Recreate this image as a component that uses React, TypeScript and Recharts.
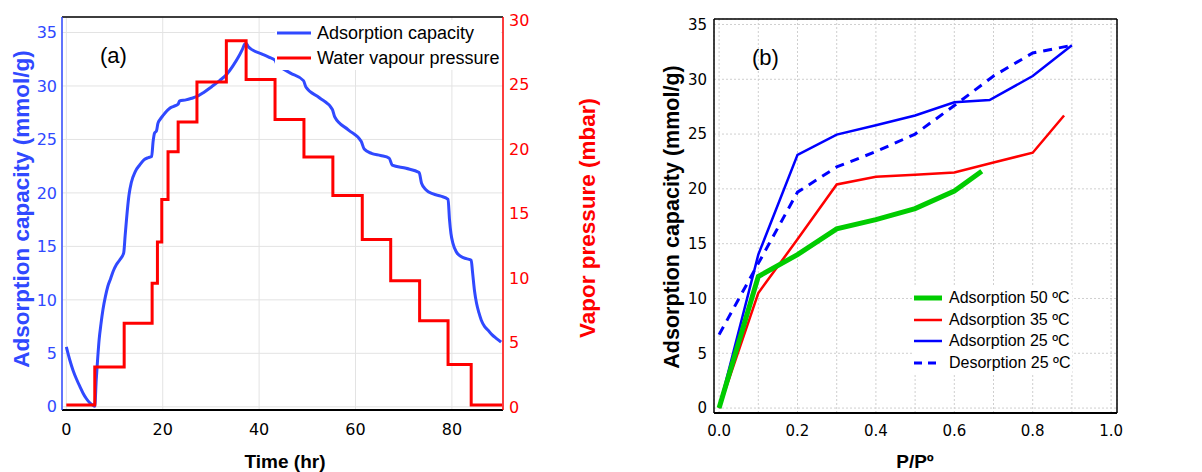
import React from 'react';
import { LineChart, Line, XAxis, YAxis, CartesianGrid, Legend } from 'recharts';

// ---------- Panel (a): time series ----------
const timeHr = [
  0, 0.7, 1.4, 2.1, 2.8, 3.5, 4.1, 4.8, 5.5, 5.9, 6.2, 6.5, 6.8, 7.2, 7.6, 8.1, 8.6, 9.2, 9.7, 10.4,
  11.1, 11.9, 12.2, 12.5, 13.0, 13.5, 14.3, 15.2, 16.1, 17.0, 17.7, 18.0, 18.3, 18.7, 19.0, 19.5, 20.0,
  20.7, 21.4, 22.3, 23.2, 23.5, 24.8, 26.0, 27.0, 28.5, 30.2, 31.8, 33.3, 34.6, 35.7, 36.5, 37.0, 37.3,
  37.7, 38.5, 40.5, 42.0, 43.3, 43.7, 44.3, 46.5, 49.2, 49.7, 52.5, 55.2, 55.7, 58.5, 61.2, 61.8, 63.3,
  65.2, 67.0, 67.6, 70.5, 73.2, 73.7, 74.6, 76.1, 77.7, 79.2, 79.5, 79.8, 80.2, 80.9, 81.9, 83.0, 84.0,
  84.3, 84.7, 85.1, 85.6, 86.1, 86.8, 87.5, 88.3, 89.2, 90.2,
];
const capacityMmolG = [
  5.6, 4.4, 3.4, 2.6, 1.9, 1.25, 0.8, 0.4, 0.15, 0.05, 2.5, 4.5, 6.25, 7.8, 9.1, 10.3, 11.25, 12.0, 12.65, 13.3,
  13.75, 14.4, 16.0, 17.6, 19.8, 21.0, 22.0, 22.6, 23.1, 23.3, 23.4, 24.8, 25.6, 25.8, 26.5, 26.9, 27.2,
  27.6, 27.9, 28.1, 28.3, 28.6, 28.7, 28.85, 29.0, 29.4, 29.95, 30.5, 31.1, 31.9, 32.7, 33.4, 33.9, 34.0,
  33.7, 33.4, 33.0, 32.7, 32.4, 32.0, 31.8, 31.2, 30.5, 29.9, 28.9, 27.8, 27.1, 25.9, 24.8, 24.1, 23.7,
  23.5, 23.25, 22.6, 22.3, 21.9, 20.9, 20.3, 19.9, 19.7, 19.4, 17.5, 16.2, 15.3, 14.5, 14.05, 13.85, 13.7,
  12.5, 10.8, 9.7, 8.8, 8.1, 7.5, 7.15, 6.75, 6.4, 6.05,
];
const stepTimeHr = [0, 5.9, 12.0, 17.8, 18.9, 19.8, 21.1, 23.2, 27.1, 33.2, 37.3, 43.3, 49.3, 55.3, 61.4, 67.3, 73.3, 79.2, 84.0, 90.4];
const vaporPressureMbar = [0.15, 3.1, 6.5, 9.6, 12.8, 16.1, 19.8, 22.1, 25.2, 28.4, 25.4, 22.3, 19.4, 16.4, 13.0, 9.8, 6.7, 3.3, 0.15, 0.15];
const timeTicks = [0, 20, 40, 60, 80];
const capacityTicks = [0, 5, 10, 15, 20, 25, 30, 35];
const pressureTicks = [0, 5, 10, 15, 20, 25, 30];

// ---------- Panel (b): isotherms ----------
const ads50P = [0, 0.1, 0.2, 0.3, 0.4, 0.5, 0.6, 0.67];
const ads50Q = [0, 12.0, 14.0, 16.35, 17.2, 18.2, 19.8, 21.6];
const ads35P = [0, 0.1, 0.2, 0.3, 0.4, 0.5, 0.6, 0.7, 0.8, 0.88];
const ads35Q = [0, 10.5, 15.4, 20.4, 21.1, 21.3, 21.5, 22.4, 23.3, 26.7];
const ads25P = [0, 0.1, 0.2, 0.3, 0.4, 0.5, 0.6, 0.69, 0.8, 0.9];
const ads25Q = [0, 14.0, 23.1, 24.95, 25.8, 26.7, 27.9, 28.1, 30.3, 33.1];
const des25P = [0, 0.1, 0.2, 0.3, 0.4, 0.5, 0.6, 0.7, 0.8, 0.9];
const des25Q = [6.7, 13.2, 19.7, 22.0, 23.4, 25.0, 27.6, 30.3, 32.4, 33.1];
const relPressureTicks = [0, 0.1, 0.2, 0.3, 0.4, 0.5, 0.6, 0.7, 0.8, 0.9, 1.0];
const isoCapacityTicks = [0, 5, 10, 15, 20, 25, 30, 35];

const BLUE_A = '#3049ff';
const RED = '#ff0000';
const BLUE_B = '#0000ff';
const GREEN = '#00cc00';
const NUM_FONT = '"DejaVu Sans", sans-serif';
const TXT_FONT = '"Liberation Sans", Arial, sans-serif';

const zip = (xs: number[], ys: number[]) => xs.map((x, i) => ({ x, y: ys[i] }));

const capacitySeries = zip(timeHr, capacityMmolG);
const pressureSeries = zip(stepTimeHr, vaporPressureMbar);
const ads50 = zip(ads50P, ads50Q);
const ads35 = zip(ads35P, ads35Q);
const ads25 = zip(ads25P, ads25Q);
const des25 = zip(des25P, des25Q);

type LegendItem = { label: string; color: string; width: number; dash?: string };

const legendA: LegendItem[] = [
  { label: 'Adsorption capacity', color: BLUE_A, width: 3 },
  { label: 'Water vapour pressure', color: RED, width: 3 },
];
const legendB: LegendItem[] = [
  { label: 'Adsorption 50 ºC', color: GREEN, width: 5 },
  { label: 'Adsorption 35 ºC', color: RED, width: 2.5 },
  { label: 'Adsorption 25 ºC', color: BLUE_B, width: 2.5 },
  { label: 'Desorption 25 ºC', color: BLUE_B, width: 3, dash: '8 6' },
];

function makeLegend(items: LegendItem[], rowH: number, lineW: number, gap: number, fontSize: number) {
  return () => (
    <div style={{ background: '#fff', fontFamily: TXT_FONT, fontSize, color: '#000', padding: '0 2px' }}>
      {items.map((it) => (
        <div key={it.label} style={{ display: 'flex', alignItems: 'center', height: rowH, whiteSpace: 'nowrap' }}>
          <svg width={lineW} height={8} style={{ display: 'block' }}>
            <line x1={0} y1={4} x2={lineW} y2={4} stroke={it.color} strokeWidth={it.width} strokeDasharray={it.dash} />
          </svg>
          <span style={{ marginLeft: gap, lineHeight: 1 }}>{it.label}</span>
        </div>
      ))}
    </div>
  );
}

const titleFont = { fontFamily: TXT_FONT, fontWeight: 700 } as const;

const DOMAIN_T: [number, number] = [-0.9, 90.6];
const DOMAIN_CAP: [number, number] = [-0.3, 36.45];
const DOMAIN_P: [number, number] = [-0.23, 30.25];
const DOMAIN_REL: [number, number] = [-0.013, 1.015];
const DOMAIN_ISO: [number, number] = [-0.45, 35.5];

export default function App() {
  return (
    <div style={{ position: 'absolute', left: 0, top: 0, width: 1202, height: 472, background: '#fff', overflow: 'hidden' }}>
      {/* Panel (a) */}
      <div style={{ position: 'absolute', left: 0, top: 0 }}>
        <LineChart width={600} height={472} margin={{ top: 17, right: 0, bottom: 0, left: 0 }}>
          <CartesianGrid xAxisId="bottom" yAxisId="left" stroke="#e3e3e3" strokeWidth={1} />
          {/* labelled axes */}
          <XAxis xAxisId="bottom" type="number" dataKey="x" domain={DOMAIN_T} ticks={timeTicks} allowDataOverflow
            interval={0} height={62} tickSize={0} tickMargin={14} axisLine={false} tickLine={false}
            tick={{ fill: '#000', fontSize: 16, fontFamily: NUM_FONT }} />
          <YAxis yAxisId="left" type="number" domain={DOMAIN_CAP} ticks={capacityTicks} allowDataOverflow
            interval={0} width={62} tickSize={0} tickMargin={5} axisLine={false} tickLine={false}
            tick={{ fill: BLUE_A, fontSize: 16, fontFamily: NUM_FONT }} />
          <YAxis yAxisId="right" orientation="right" type="number" domain={DOMAIN_P} ticks={pressureTicks} allowDataOverflow
            interval={0} width={97} tickSize={0} tickMargin={6} axisLine={false} tickLine={false}
            tick={{ fill: RED, fontSize: 16, fontFamily: NUM_FONT }} />
          {/* frame with inward ticks */}
          <XAxis xAxisId="topTicks" orientation="top" mirror type="number" domain={DOMAIN_T} ticks={timeTicks}
            allowDataOverflow interval={0} tick={false} tickSize={10}
            axisLine={{ stroke: '#000', strokeWidth: 1.5 }} tickLine={{ stroke: '#000', strokeWidth: 1.5 }} />
          <XAxis xAxisId="bottomTicks" mirror type="number" domain={DOMAIN_T} ticks={timeTicks}
            allowDataOverflow interval={0} tick={false} tickSize={10}
            axisLine={{ stroke: '#000', strokeWidth: 2 }} tickLine={{ stroke: '#000', strokeWidth: 1.5 }} />
          <YAxis yAxisId="leftTicks" mirror type="number" domain={DOMAIN_CAP} ticks={capacityTicks}
            allowDataOverflow interval={0} tick={false} tickSize={9}
            axisLine={{ stroke: BLUE_A, strokeWidth: 1.5 }} tickLine={{ stroke: BLUE_A, strokeWidth: 1.5 }} />
          <YAxis yAxisId="rightTicks" orientation="right" mirror type="number" domain={DOMAIN_P} ticks={pressureTicks}
            allowDataOverflow interval={0} tick={false} tickSize={10}
            axisLine={{ stroke: RED, strokeWidth: 1.5 }} tickLine={{ stroke: RED, strokeWidth: 1.5 }} />
          <Line xAxisId="bottom" yAxisId="left" data={capacitySeries} dataKey="y" name="Adsorption capacity"
            type="monotone" stroke={BLUE_A} strokeWidth={3} dot={false} isAnimationActive={false} />
          <Line xAxisId="bottom" yAxisId="right" data={pressureSeries} dataKey="y" name="Water vapour pressure"
            type="stepAfter" stroke={RED} strokeWidth={3} dot={false} isAnimationActive={false} />
          <Legend layout="horizontal" verticalAlign="middle" align="center"
            content={makeLegend(legendA, 25, 34, 6, 18)}
            wrapperStyle={{ position: 'absolute', left: 275, top: 20, width: 'auto', height: 'auto' }} />
        </LineChart>
      </div>

      {/* Panel (b) */}
      <div style={{ position: 'absolute', left: 600, top: 0 }}>
        <LineChart width={602} height={472} margin={{ top: 19, right: 85, bottom: 0, left: 0 }}>
          <CartesianGrid xAxisId="bottom" yAxisId="left" stroke="#cfcfcf" strokeDasharray="2 2" strokeWidth={1} />
          <XAxis xAxisId="bottom" type="number" dataKey="x" domain={DOMAIN_REL} ticks={relPressureTicks} allowDataOverflow
            interval={0} height={59} tickSize={0} tickMargin={12} axisLine={false} tickLine={false}
            tickFormatter={(v: number) => (Math.round(v * 10) % 2 === 0 ? v.toFixed(1) : '')}
            tick={{ fill: '#000', fontSize: 15, fontFamily: NUM_FONT }} />
          <YAxis yAxisId="left" type="number" domain={DOMAIN_ISO} ticks={isoCapacityTicks} allowDataOverflow
            interval={0} width={114} tickSize={0} tickMargin={7} axisLine={false} tickLine={false}
            tick={{ fill: '#000', fontSize: 15, fontFamily: NUM_FONT }} />
          <XAxis xAxisId="topTicks" orientation="top" mirror type="number" domain={DOMAIN_REL} ticks={relPressureTicks}
            allowDataOverflow interval={0} tick={false} tickSize={10}
            axisLine={{ stroke: '#000', strokeWidth: 1.5 }} tickLine={{ stroke: '#000', strokeWidth: 1.5 }} />
          <XAxis xAxisId="bottomTicks" mirror type="number" domain={DOMAIN_REL} ticks={relPressureTicks}
            allowDataOverflow interval={0} tick={false} tickSize={10}
            axisLine={{ stroke: '#000', strokeWidth: 2 }} tickLine={{ stroke: '#000', strokeWidth: 1.5 }} />
          <YAxis yAxisId="leftTicks" mirror type="number" domain={DOMAIN_ISO} ticks={isoCapacityTicks}
            allowDataOverflow interval={0} tick={false} tickSize={10}
            axisLine={{ stroke: '#000', strokeWidth: 1.5 }} tickLine={{ stroke: '#000', strokeWidth: 1.5 }} />
          <YAxis yAxisId="rightTicks" orientation="right" mirror type="number" domain={DOMAIN_ISO} ticks={isoCapacityTicks}
            allowDataOverflow interval={0} tick={false} tickSize={10}
            axisLine={{ stroke: '#000', strokeWidth: 1.5 }} tickLine={{ stroke: '#000', strokeWidth: 1.5 }} />
          <Line xAxisId="bottom" yAxisId="left" data={des25} dataKey="y" name="Desorption 25 ºC" type="linear"
            stroke={BLUE_B} strokeWidth={3} strokeDasharray="9 7" dot={false} isAnimationActive={false} />
          <Line xAxisId="bottom" yAxisId="left" data={ads25} dataKey="y" name="Adsorption 25 ºC" type="linear"
            stroke={BLUE_B} strokeWidth={2.5} dot={false} isAnimationActive={false} />
          <Line xAxisId="bottom" yAxisId="left" data={ads35} dataKey="y" name="Adsorption 35 ºC" type="linear"
            stroke={RED} strokeWidth={2.5} dot={false} isAnimationActive={false} />
          <Line xAxisId="bottom" yAxisId="left" data={ads50} dataKey="y" name="Adsorption 50 ºC" type="linear"
            stroke={GREEN} strokeWidth={5} dot={false} isAnimationActive={false} />
          <Legend layout="horizontal" verticalAlign="middle" align="center"
            content={makeLegend(legendB, 21.7, 28, 7, 16)}
            wrapperStyle={{ position: 'absolute', left: 312, top: 287, width: 'auto', height: 'auto' }} />
        </LineChart>
      </div>

      {/* Text overlay: panel labels and axis titles */}
      <svg width={1202} height={472} style={{ position: 'absolute', left: 0, top: 0, pointerEvents: 'none' }}>
        <text x={100} y={63} style={{ fontFamily: TXT_FONT, fontSize: 22 }} fill="#000">(a)</text>
        <text x={752} y={65} style={{ fontFamily: TXT_FONT, fontSize: 22 }} fill="#000">(b)</text>
        <text x={285} y={468} textAnchor="middle" style={{ ...titleFont, fontSize: 19 }} fill="#000">Time (hr)</text>
        <text x={915} y={468} textAnchor="middle" style={{ ...titleFont, fontSize: 19 }} fill="#000">P/Pº</text>
        <text transform="translate(29,209) rotate(-90)" textAnchor="middle" style={{ ...titleFont, fontSize: 22.5 }} fill={BLUE_A}>
          Adsorption capacity (mmol/g)
        </text>
        <text transform="translate(595,218) rotate(-90)" textAnchor="middle" style={{ ...titleFont, fontSize: 22.5 }} fill={RED}>
          Vapor pressure (mbar)
        </text>
        <text transform="translate(679,217) rotate(-90)" textAnchor="middle" style={{ ...titleFont, fontSize: 21.5 }} fill="#000">
          Adsorption capacity (mmol/g)
        </text>
      </svg>
    </div>
  );
}
